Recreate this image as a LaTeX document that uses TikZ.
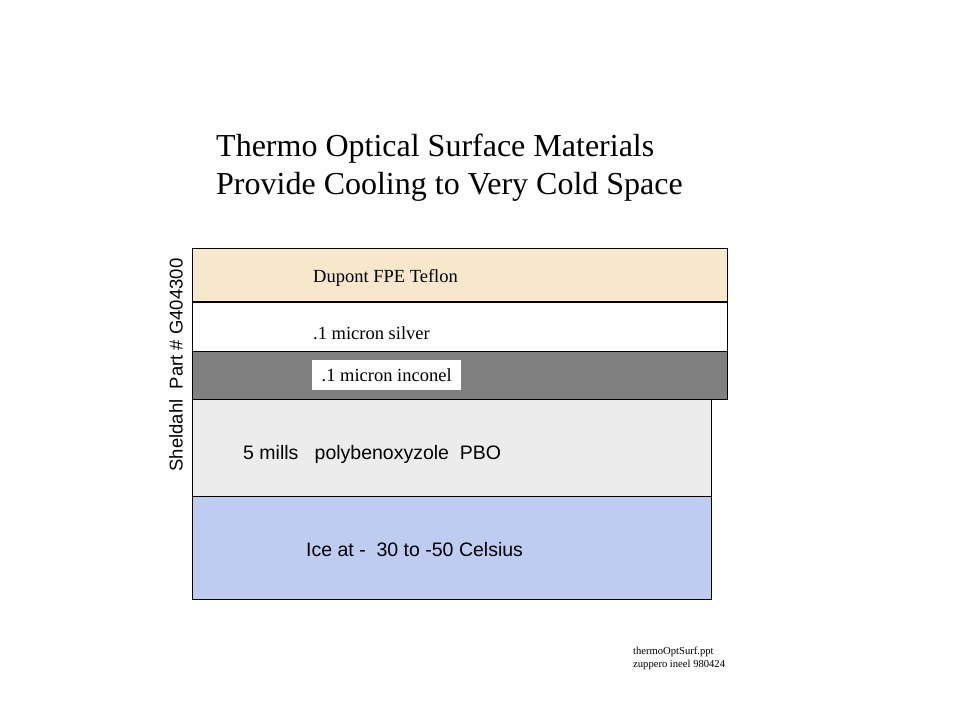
\documentclass[tikz,border=0pt]{standalone}
\usepackage{fontspec}
\setmainfont{Liberation Serif}
\setsansfont{Liberation Sans}
\usetikzlibrary{positioning}

\definecolor{teflon}{RGB}{247,232,204}
\definecolor{inconel}{RGB}{128,128,128}
\definecolor{pbo}{RGB}{236,236,236}
\definecolor{ice}{RGB}{190,204,242}

\begin{document}
\begin{tikzpicture}[
  x=1pt, y=-1pt,
  layer/.style={draw, line width=0.8pt},
  serlabel/.style={anchor=west, inner sep=0pt, font=\fontsize{18.5}{21}\selectfont},
  sanslabel/.style={anchor=west, inner sep=0pt, font=\sffamily\fontsize{19.5}{22}\selectfont},
  ttl/.style={anchor=north west, align=left, inner sep=0pt,
              font=\fontsize{32}{38}\selectfont},
  foot/.style={anchor=north west, align=left, inner sep=0pt,
               font=\fontsize{10.6}{13}\selectfont}
]
  \useasboundingbox (0,0) rectangle (959,719);

  % title
  \node[ttl] (title) at (216,134) {Thermo Optical Surface Materials\\
    Provide Cooling to Very Cold Space};

  % layers, top to bottom
  \draw[layer, fill=ice] (192,496) rectangle (711,599);
  \draw[layer, fill=pbo] (192,399) rectangle (711,496);
  \draw[layer, fill=inconel] (192,351) rectangle (727,399);
  \draw[layer, fill=white] (192,302) rectangle (727,351);
  \draw[layer, fill=teflon] (192,248) rectangle (727,302);
  \draw[line width=2pt] (192,302) -- (727,302);

  % layer labels
  \node[serlabel] (teflonlbl) at (313,278) {Dupont FPE Teflon};
  \node[serlabel] (silverlbl) at (313,333) {.1 micron silver};
  \node[serlabel, fill=white, minimum height=30pt, minimum width=149pt]
    (inconellbl) at (312,375) {.1 micron inconel};
  \node[sanslabel] (pbolbl) at (243,454)
    {5 mills\ \ \ polybenoxyzole\ \ PBO};
  \node[sanslabel] (icelbl) at (306,550)
    {Ice at -\ \ 30 to -50 Celsius};

  % side label
  \node[sanslabel, anchor=center, rotate=90, font=\sffamily\fontsize{18.5}{21}\selectfont]
    (part) at (176,365) {Sheldahl\ \ Part \# G404300};

  % footer
  \node[foot] (footer) at (633,647) {thermoOptSurf.ppt\\
    zuppero ineel 980424};
\end{tikzpicture}
\end{document}
